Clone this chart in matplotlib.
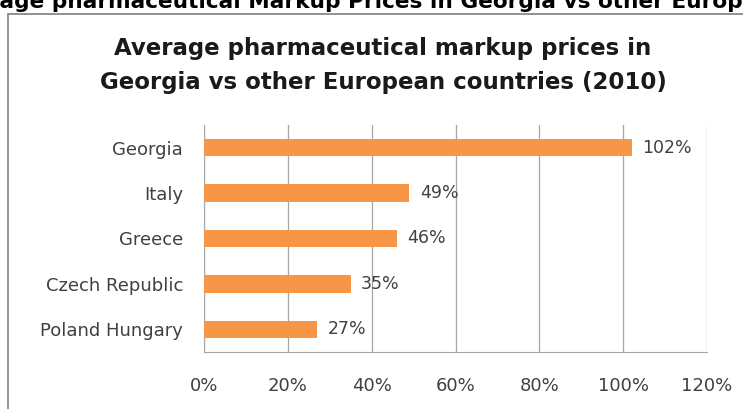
import matplotlib.pyplot as plt
from matplotlib.patches import Rectangle

countries = ['Georgia', 'Italy', 'Greece', 'Czech Republic', 'Poland Hungary']
markup = [102, 49, 46, 35, 27]
xticks = [0, 20, 40, 60, 80, 100, 120]

plt.rcParams['font.family'] = ['DejaVu Sans']

W, H = 743, 409
fig = plt.figure(figsize=(W / 100, H / 100), dpi=100)

# cropped page heading above the chart frame, "age" starting at the left edge
heading = fig.text(0, 1 - 7.5 / H, 'Average pharmaceutical Markup Prices in Georgia vs other European Countries',
                   ha='left', va='baseline', fontsize=15.6, fontweight='bold', color='black')
renderer = fig.canvas.get_renderer()
probe = fig.text(0, 0, 'Aver', fontsize=15.6, fontweight='bold')
shift = probe.get_window_extent(renderer).width
probe.remove()
heading.set_x(-shift / W)

# chart frame, running off the right and bottom edges
fig.patches.append(Rectangle((8 / W, -0.05), 1.1, 1 - 13.5 / H + 0.05, transform=fig.transFigure,
                             fill=False, edgecolor='#898989', linewidth=1.3))

ax = fig.add_axes([204 / W, 1 - 352 / H, (707 - 204) / W, (352 - 125) / H])
pos = list(range(len(countries)))[::-1]
ax.barh(pos, markup, height=0.38, color='#f79646', zorder=3)
for p, v in zip(pos, markup):
    ax.text(v + 2.5, p, f'{v}%', va='center', ha='left', fontsize=12.5, color='#404040', zorder=4)

ax.set_xlim(0, 120)
ax.set_ylim(-0.5, len(countries) - 0.5)
ax.set_xticks(xticks)
ax.set_xticklabels([f'{t}%' for t in xticks], fontsize=13, color='#404040')
ax.set_yticks(pos)
ax.set_yticklabels(countries, fontsize=13, color='#404040')
ax.tick_params(axis='both', length=0)
ax.tick_params(axis='x', pad=18)
ax.tick_params(axis='y', pad=15)
ax.grid(axis='x', color='#a6a6a6', linewidth=0.9, zorder=0)
for s in ['top', 'right']:
    ax.spines[s].set_visible(False)
ax.spines['left'].set_color('#a6a6a6')
ax.spines['bottom'].set_color('#a6a6a6')

fig.text(383 / W, 1 - 49 / H, 'Average pharmaceutical markup prices in', ha='center', va='center',
         fontsize=16.5, fontweight='bold', color='#1a1a1a')
fig.text(383 / W, 1 - 82 / H, 'Georgia vs other European countries (2010)', ha='center', va='center',
         fontsize=16.5, fontweight='bold', color='#1a1a1a')

fig.savefig('out.png', dpi=100)
